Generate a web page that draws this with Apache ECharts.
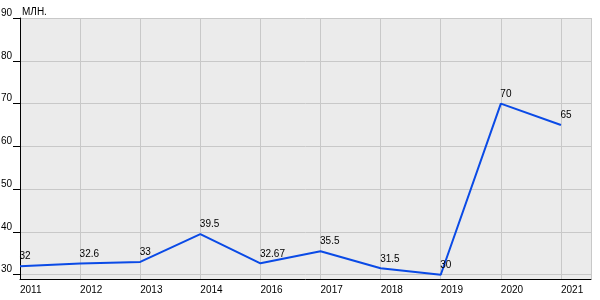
<!DOCTYPE html>
<html><head><meta charset="utf-8">
<script src="https://cdn.jsdelivr.net/npm/echarts@6/dist/echarts.min.js"></script>
<style>html,body{margin:0;padding:0;background:#fff}#c{width:600px;height:300px}</style>
</head><body><div id="c"></div>
<script>
const categories = ['2011','2012','2013','2014','2016','2017','2018','2019','2020','2021'];
const values = [32, 32.6, 33, 39.5, 32.67, 35.5, 31.5, 30, 70, 65];
const pointLabels = ['32','32.6','33','39.5','32.67','35.5','31.5','30','70','65'];
const yTicks = [30, 40, 50, 60, 70, 80, 90];
const unitLabel = 'МЛН.';

const font = 'Liberation Sans, Arial, sans-serif';
const chart = echarts.init(document.getElementById('c'), null, {renderer: 'canvas'});
chart.setOption({
  animation: false,
  backgroundColor: '#fff',
  grid: {left: 20, right: 9, top: 18, bottom: 21, show: true, backgroundColor: '#ebebeb', borderWidth: 0, containLabel: false, outerBoundsMode: 'none'},
  title: {text: unitLabel, left: 22, top: 7, padding: 0, textStyle: {fontFamily: font, fontSize: 10, fontWeight: 'normal', color: '#000'}},
  xAxis: {
    type: 'value', min: 0, max: categories.length - 0.5, interval: 1,
    axisLine: {show: true, onZero: false, lineStyle: {color: '#000', width: 1}},
    axisTick: {show: false},
    splitLine: {show: true, lineStyle: {color: '#c8c8c8', width: 1}},
    axisLabel: {
      show: true, showMaxLabel: false, margin: 6, align: 'left', color: '#000',
      fontFamily: font, fontSize: 10,
      formatter: v => (Number.isInteger(v) && categories[v] !== undefined) ? categories[v] : ''
    }
  },
  yAxis: {
    type: 'value', min: 29, max: 90,
    axisLine: {show: true, lineStyle: {color: '#000', width: 1}},
    axisTick: {show: true, length: 7, customValues: yTicks, lineStyle: {color: '#000'}},
    splitLine: {show: true, lineStyle: {color: '#c8c8c8', width: 1}},
    axisLabel: {show: true, customValues: yTicks, margin: 8, verticalAlign: 'bottom', color: '#000', fontFamily: font, fontSize: 10}
  },
  series: [{
    type: 'line',
    data: values.map((v, i) => [i, v]),
    lineStyle: {color: '#0a4ae6', width: 2},
    itemStyle: {color: 'rgba(0,0,0,0)', borderWidth: 0},
    symbol: 'circle', symbolSize: 1, showSymbol: true,
    label: {
      show: true, position: [0, -9], align: 'left', verticalAlign: 'middle',
      color: '#000', fontFamily: font, fontSize: 10,
      formatter: p => pointLabels[p.dataIndex]
    },
    emphasis: {disabled: true},
    z: 3
  }]
});
</script></body></html>
